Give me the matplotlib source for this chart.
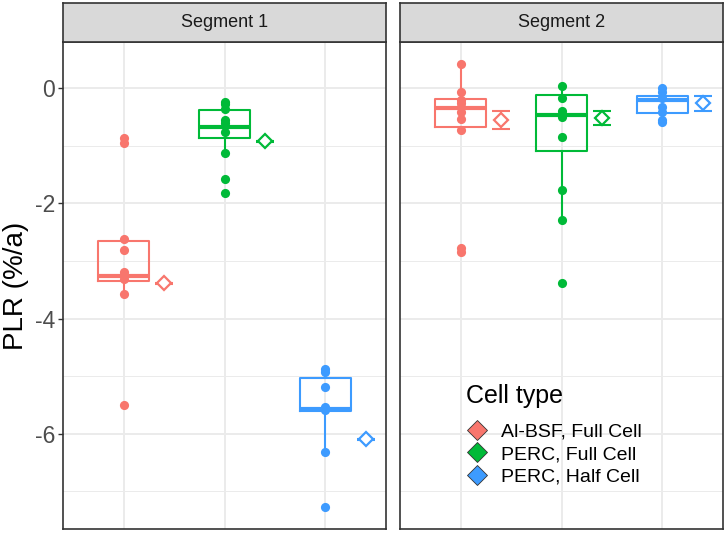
import numpy as np
import matplotlib
matplotlib.use('Agg')
from matplotlib import pyplot as plt
from matplotlib.lines import Line2D

plt.rcParams['font.family'] = ['Liberation Sans', 'DejaVu Sans']

segments = ['Segment 1', 'Segment 2']
cell_types = ['Al-BSF, Full Cell', 'PERC, Full Cell', 'PERC, Half Cell']
colors = ['#F8766D', '#00BA38', '#3D9BFF']

# single module PLR values
seg1_points = [
    [-0.87, -0.95, -2.62, -2.80, -3.19, -3.25, -3.31, -3.57, -5.50],
    [-0.23, -0.28, -0.36, -0.55, -0.60, -0.75, -1.13, -1.58, -1.82],
    [-4.87, -4.93, -5.19, -5.53, -5.58, -6.31, -7.27],
]
seg2_points = [
    [0.42, -0.06, -0.20, -0.26, -0.32, -0.41, -0.54, -0.72, -2.78, -2.84],
    [0.04, -0.16, -0.39, -0.46, -0.49, -0.85, -1.77, -2.29, -3.39],
    [0.00, -0.07, -0.17, -0.32, -0.41, -0.55, -0.58],
]

# box statistics: lower whisker, q1, median, q3, upper whisker
seg1_boxes = [
    [-3.57, -3.35, -3.26, -2.65, -2.62],
    [-1.13, -0.86, -0.67, -0.38, -0.23],
    [-6.31, -5.61, -5.57, -5.03, -4.87],
]
seg2_boxes = [
    [-0.72, -0.68, -0.335, -0.19, 0.42],
    [-2.29, -1.09, -0.46, -0.12, 0.04],
    [-0.58, -0.42, -0.20, -0.13, 0.00],
]

# mean diamonds and their error bars
seg1_means = [-3.39, -0.92, -6.10]
seg1_err = [0.01, 0.01, 0.01]
seg2_means = [-0.55, -0.52, -0.26]
seg2_err = [0.16, 0.12, 0.125]

y_ticks = [0, -2, -4, -6]
y_minor = [-1, -3, -5, -7]

W, H = 726, 533
fig = plt.figure(figsize=(W / 100, H / 100), dpi=100)

panel_top, panel_bot = 42, 529
strip_top = 3
lefts = [63, 400]
pw = 323


def fx(px):
    return px / W


def fy(py):
    return 1 - py / H


panels = [
    (seg1_points, seg1_boxes, seg1_means, seg1_err),
    (seg2_points, seg2_boxes, seg2_means, seg2_err),
]

axes = []
for i, (pts, boxes, means, errs) in enumerate(panels):
    ax = fig.add_axes([fx(lefts[i]), fy(panel_bot), pw / W, (panel_bot - panel_top) / H])
    axes.append(ax)
    ax.set_xlim(0.4, 3.6)
    ax.set_ylim(-7.655, 0.805)

    # grid like theme_bw
    for v in y_ticks:
        ax.axhline(v, color='#EBEBEB', lw=1.4, zorder=0)
    for v in y_minor:
        ax.axhline(v, color='#EBEBEB', lw=0.7, zorder=0)
    for k in range(3):
        ax.axvline(k + 1, color='#EBEBEB', lw=1.4, zorder=0)

    for k in range(3):
        c = colors[k]
        lo, q1, med, q3, hi = boxes[k]
        stats = [dict(whislo=lo, q1=q1, med=med, q3=q3, whishi=hi, fliers=[])]
        ax.bxp(stats, positions=[k + 1], widths=0.5, showcaps=False, showfliers=False,
               boxprops=dict(color=c, lw=1.5), whiskerprops=dict(color=c, lw=1.5),
               medianprops=dict(color=c, lw=3.0), zorder=2, manage_ticks=False)
        ax.plot([k + 1] * len(pts[k]), pts[k], 'o', color=c, ms=6.6, mew=0, zorder=3)
        ax.errorbar(k + 1.4, means[k], yerr=errs[k], fmt='none', ecolor=c,
                    elinewidth=1.5, capsize=6.8, capthick=1.5, zorder=3)
        ax.plot(k + 1.4, means[k], 'D', mfc='white', mec=c, mew=1.6, ms=7.5, zorder=4)

    for s in ax.spines.values():
        s.set_color('#333333')
        s.set_linewidth(1.2)
    ax.set_xticks([])
    if i == 0:
        ax.set_yticks(y_ticks)
        ax.set_yticklabels(['0', '-2', '-4', '-6'])
        ax.tick_params(axis='y', length=3.5, width=1.0, color='#333333',
                       labelsize=16.5, labelcolor='#4D4D4D', pad=2)
    else:
        ax.set_yticks([])

    # facet strip
    sax = fig.add_axes([fx(lefts[i]), fy(panel_top), pw / W, (panel_top - strip_top) / H])
    sax.set_facecolor('#D9D9D9')
    sax.set_xticks([])
    sax.set_yticks([])
    for s in sax.spines.values():
        s.set_color('#333333')
        s.set_linewidth(1.2)
    sax.text(0.5, 0.5, segments[i], ha='center', va='center', fontsize=13, color='#1A1A1A',
             transform=sax.transAxes)

fig.text(fx(16), fy((panel_top + panel_bot) / 2), 'PLR (%/a)', rotation=90, ha='center',
         va='center', fontsize=20, color='black')

# legend, title drawn on its own so the gap matches ggplot
fig.text(fx(466), fy(403), 'Cell type', ha='left', va='baseline', fontsize=18, color='black')
handles = [Line2D([], [], ls='none', marker='D', ms=10.5, mfc=c, mec='#333333', mew=0.6)
           for c in colors]
leg = fig.legend(handles, cell_types, loc='upper left',
                 bbox_to_anchor=(fx(467), fy(423)), frameon=False, fontsize=14,
                 borderpad=0, borderaxespad=0, labelspacing=0.26,
                 handlelength=1.0, handletextpad=0.75)

fig.savefig('out.png', dpi=100)
